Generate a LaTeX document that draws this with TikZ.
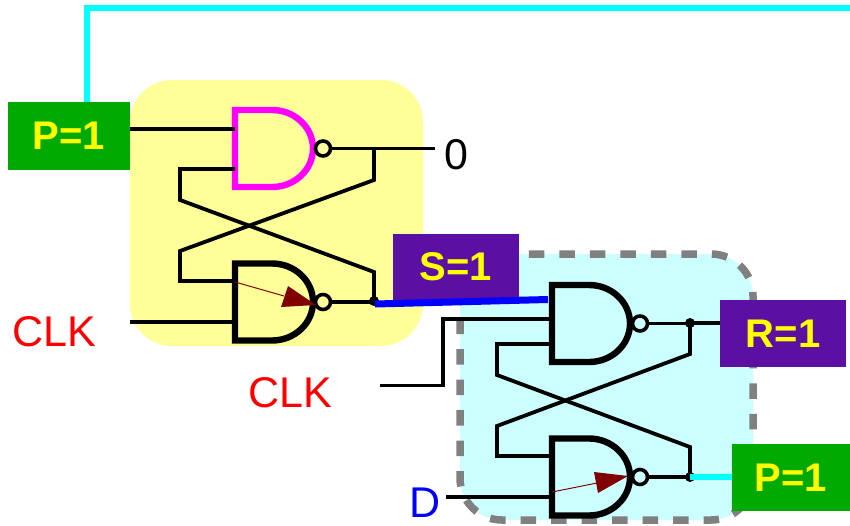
\documentclass[tikz,border=0pt]{standalone}
\usepackage{fontspec}
\setmainfont{Liberation Sans}
\definecolor{panelY}{RGB}{255,255,153}
\definecolor{panelC}{RGB}{204,255,255}
\definecolor{tagG}{RGB}{0,170,0}
\definecolor{tagP}{RGB}{91,15,163}
\definecolor{headR}{RGB}{128,0,0}
\definecolor{feedC}{RGB}{0,255,255}
\definecolor{gateM}{RGB}{255,0,255}
\definecolor{pureB}{RGB}{0,0,255}
\definecolor{pureR}{RGB}{255,0,0}
\definecolor{pureY}{RGB}{255,255,0}
\definecolor{dashG}{RGB}{128,128,128}
\tikzset{
  wire/.style={draw=black,line width=3.8pt,line join=miter},
  gateline/.style={line width=6.4pt,line join=miter},
  bubble/.style={circle,draw=black,line width=3.6pt,minimum size=15pt,inner sep=0pt,fill=none},
  dotj/.style={circle,fill=black,minimum size=10pt,inner sep=0pt},
  tag/.style={minimum height=#1,inner sep=0pt,text=pureY,font=\fontsize{40}{40}\selectfont\bfseries},
  lab/.style={inner sep=0pt,font=\fontsize{43}{43}\selectfont},
  feed/.style={line width=6.5pt,draw=feedC},
  pulse/.style={draw=headR,line width=1pt},
  pulsehead/.style={fill=headR,draw=none},
}
% name, left x, top y, colour
\newcommand{\nandgate}[4]{%
  \draw[gateline,draw=#4] (#2+37,#3) -- (#2,#3) -- (#2,#3+77) -- (#2+37,#3+77)
     arc[start angle=-90,end angle=90,x radius=41pt,y radius=38.5pt] -- cycle;
  \node[bubble] (#1b) at (#2+88,#3+38.5) {};
}
\begin{document}
\begin{tikzpicture}[x=1pt,y=-1pt]
\useasboundingbox (0,0) rectangle (850,525);
% panels
\fill[panelY,rounded corners=42pt] (130,80) rectangle (423,346);
\fill[panelC,rounded corners=42pt] (460,254) rectangle (753,520);
\draw[dashG,line width=7.5pt,rounded corners=42pt,dash pattern=on 15.5pt off 15pt,dash phase=8pt]
  (460,254) rectangle (753,520);
% upper latch
\nandgate{ga}{235}{110}{gateM}
\nandgate{gb}{235}{263.5}{black}
\coordinate (a1) at (235,129);
\coordinate (a2) at (235,169);
\coordinate (b1) at (235,281);
\coordinate (b2) at (235,322);
\coordinate (ax) at (374,149);
\coordinate (bx) at (374,301);
\coordinate (zero) at (435,149);
\coordinate (clkA) at (130,322);
\coordinate (p1out) at (130,129);
\draw[wire] (p1out) -- (a1);
\draw[wire] (a2) -- (180,169) -- (180,200) -- (374,272) -- (bx);
\draw[wire] (ax) -- (374,180) -- (180,251) -- (180,281) -- (b1);
\draw[wire] (gab.east) -- (gab.east -| zero);
\draw[wire] (gbb.east) -- (gbb.east -| bx);
\draw[wire] (clkA) -- (b2);
\node[dotj] (jb) at (bx) {};
\coordinate (pa) at (235,282);
\coordinate (pb) at (284,296);
\draw[pulse] (pa) -- (pb);
\fill[pulsehead] (288,286) -- (316,305) -- (281,307) -- cycle;
% lower latch
\nandgate{gc}{552}{285}{black}
\nandgate{gd}{552}{438.5}{black}
\coordinate (c1) at (552,319);
\coordinate (c2) at (552,344);
\coordinate (d1) at (552,456);
\coordinate (d2) at (552,497);
\coordinate (cx) at (690,323);
\coordinate (dx) at (690,477);
\coordinate (clkB) at (380,385.5);
\coordinate (dIn) at (446,497);
\draw[wire] (c2) -- (497,344) -- (497,375) -- (690,447) -- (dx);
\draw[wire] (cx) -- (690,354) -- (497,426) -- (497,456) -- (d1);
\draw[wire] (clkB) -- (443,385.5) -- (443,319) -- (c1);
\draw[wire] (dIn) -- (d2);
\draw[wire] (gcb.east) -- (gcb.east -| cx);
\draw[wire] (gdb.east) -- (gdb.east -| dx);
\node[dotj] (jc) at (cx) {};
\node[dotj] (jd) at (dx) {};
\coordinate (pc) at (552,492);
\coordinate (pd) at (597,483);
\draw[pulse] (pc) -- (pd);
\fill[pulsehead] (594,472) -- (628,476) -- (598,493) -- cycle;
% tags
\node[tag=68pt,minimum width=122pt,fill=tagG] (P1) at (69,136) {P=1};
\node[tag=66pt,minimum width=126pt,fill=tagP] (S) at (456,267) {S=1};
\node[tag=67pt,minimum width=126pt,fill=tagP] (R) at (783,333.5) {R=1};
\node[tag=67pt,minimum width=118pt,fill=tagG] (P2) at (791,477.5) {P=1};
% coloured connectors
\draw[wire] (cx) -- (R.west |- cx);
\coordinate (fbTop) at (87,8);
\coordinate (fbEnd) at (850,8);
\coordinate (P1top) at (87,102);
\draw[feed,line join=miter] (P1top) -- (fbTop) -- (fbEnd);
\coordinate (sL) at (375,304);
\coordinate (sR) at (548,299.5);
\draw[draw=pureB,line width=7pt] (sL) -- (sR);
\draw[feed] (dx) -- (P2.west |- dx);
% labels
\node[lab] (zeroL) at (456,155) {0};
\node[lab,text=pureR] (clkL1) at (54,332) {CLK};
\node[lab,text=pureR] (clkL2) at (290,393) {CLK};
\node[lab,text=pureB] (dL) at (425,502.5) {D};
\end{tikzpicture}
\end{document}
